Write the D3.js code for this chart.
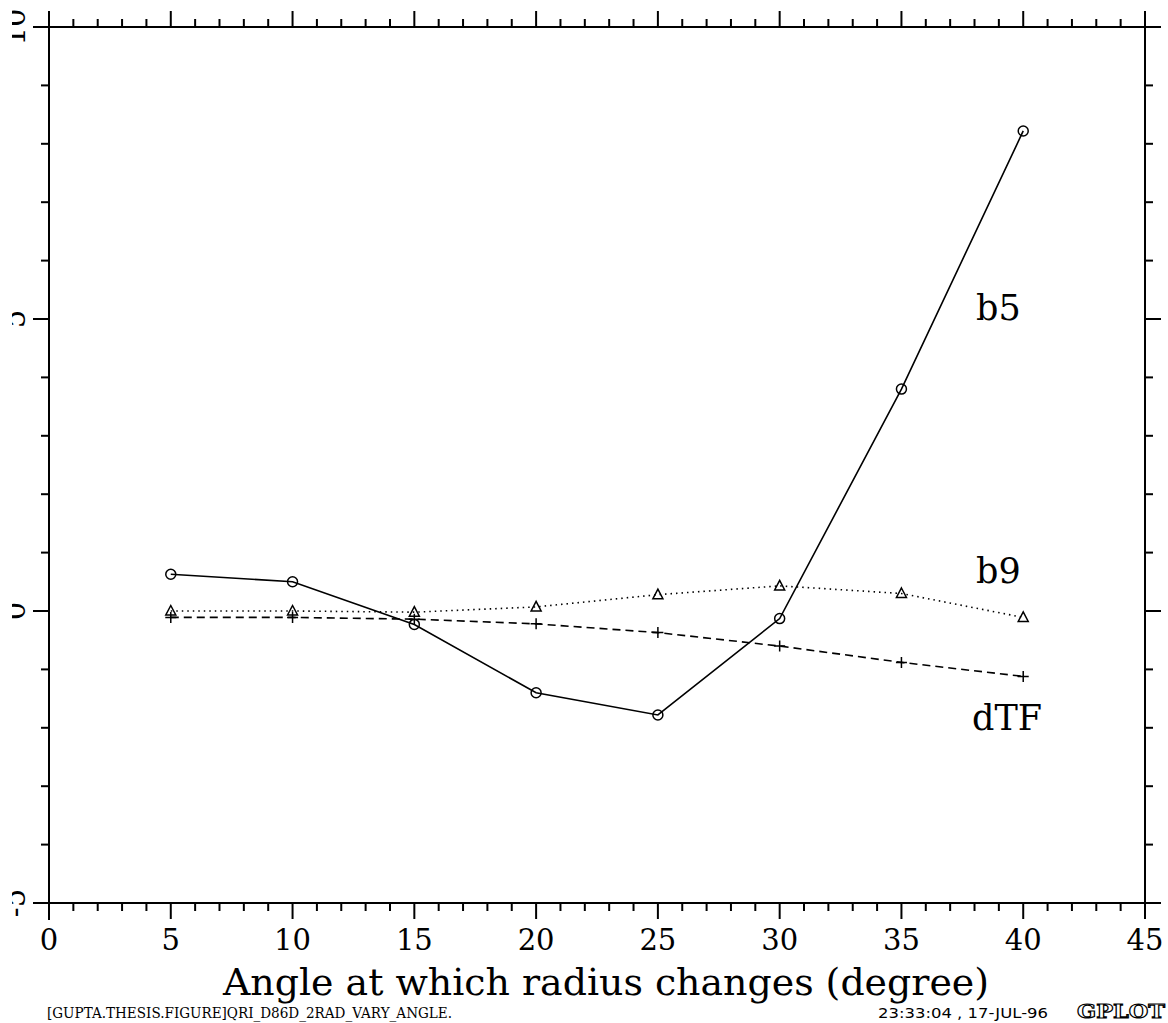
<!DOCTYPE html>
<html>
<head>
<meta charset="utf-8">
<script src="https://cdn.jsdelivr.net/npm/d3@7"></script>
<style>
  html, body { margin: 0; padding: 0; background: #fff; }
  svg { display: block; }
</style>
</head>
<body>
<script>
// Angle values along the x axis
const angles = [5, 10, 15, 20, 25, 30, 35, 40];

// Series values
const b5  = [0.63, 0.50, -0.23, -1.40, -1.78, -0.13, 3.80, 8.22];
const b9  = [0.00, 0.00, -0.02, 0.07, 0.28, 0.43, 0.30, -0.11];
const dTF = [-0.11, -0.11, -0.14, -0.22, -0.37, -0.60, -0.88, -1.12];

// Tick labels
const xTicks = [0, 5, 10, 15, 20, 25, 30, 35, 40, 45];
const yTicks = [-5, 0, 5, 10];

const W = 1168, H = 1023;
const plotLeft = 49, plotRight = 1145, plotTop = 27, plotBottom = 903;
const serif = "'DejaVu Serif', 'Liberation Serif', serif";

const svg = d3.select("body").append("svg")
  .attr("width", W).attr("height", H);

const x = d3.scaleLinear().domain([0, 45]).range([plotLeft, plotRight]);
const y = d3.scaleLinear().domain([-5, 10]).range([plotBottom, plotTop]);

const ink = "#000";

// Frame: axis lines overshoot the corners slightly
const frame = svg.append("g").attr("stroke", ink).attr("stroke-width", 2).attr("fill", "none");
frame.append("line").attr("x1", plotLeft - 15).attr("x2", plotRight).attr("y1", plotTop).attr("y2", plotTop);
frame.append("line").attr("x1", plotLeft - 15).attr("x2", plotRight).attr("y1", plotBottom).attr("y2", plotBottom);
frame.append("line").attr("x1", plotLeft).attr("x2", plotLeft).attr("y1", plotTop - 15).attr("y2", plotBottom + 17);
frame.append("line").attr("x1", plotRight).attr("x2", plotRight).attr("y1", plotTop - 15).attr("y2", plotBottom);

// Minor (every unit) and major (every 5 units) ticks on all four sides
const xMinor = d3.range(0, 46, 1);
const yMinor = d3.range(-5, 11, 1);
const isMajor = v => v % 5 === 0;

const ticks = svg.append("g").attr("stroke", ink).attr("stroke-width", 2);
xMinor.forEach(v => {
  const len = isMajor(v) ? 16 : 8;
  ticks.append("line").attr("x1", x(v)).attr("x2", x(v)).attr("y1", plotBottom).attr("y2", plotBottom + len);
  ticks.append("line").attr("x1", x(v)).attr("x2", x(v)).attr("y1", plotTop).attr("y2", plotTop - len);
});
yMinor.forEach(v => {
  const len = isMajor(v) ? 16 : 8;
  ticks.append("line").attr("y1", y(v)).attr("y2", y(v)).attr("x1", plotLeft).attr("x2", plotLeft - len);
  ticks.append("line").attr("y1", y(v)).attr("y2", y(v)).attr("x1", plotRight).attr("x2", plotRight + len);
});

// X tick labels
svg.append("g").selectAll("text").data(xTicks).join("text")
  .attr("x", d => x(d)).attr("y", plotBottom + 47)
  .attr("text-anchor", "middle")
  .attr("font-family", serif).attr("font-size", 29)
  .attr("fill", ink)
  .text(d => d);

// Y tick labels (rotated, running off the left edge)
svg.append("defs").append("clipPath").attr("id", "yclip")
  .append("rect").attr("x", 12).attr("y", 0).attr("width", 40).attr("height", H);
svg.append("g").attr("clip-path", "url(#yclip)")
  .selectAll("text").data(yTicks).join("text")
  .attr("transform", d => `translate(25,${y(d)}) rotate(-90)`)
  .attr("text-anchor", "middle")
  .attr("font-family", serif).attr("font-size", 29)
  .attr("fill", ink)
  .text(d => d);

// X axis title
svg.append("text")
  .attr("x", 606).attr("y", 995)
  .attr("text-anchor", "middle")
  .attr("font-family", serif).attr("font-size", 37)
  .attr("textLength", 766).attr("lengthAdjust", "spacingAndGlyphs")
  .attr("fill", ink)
  .text("Angle at which radius changes (degree)");

// Series
const series = [
  { name: "b5",  values: b5,  dash: null,  marker: "circle" },
  { name: "b9",  values: b9,  dash: "1.5,4", marker: "triangle" },
  { name: "dTF", values: dTF, dash: "8,5", marker: "plus" }
];

const line = d3.line().x(d => x(d[0])).y(d => y(d[1]));

series.forEach(s => {
  const pts = angles.map((a, i) => [a, s.values[i]]);
  svg.append("path")
    .datum(pts)
    .attr("d", line)
    .attr("fill", "none")
    .attr("stroke", ink)
    .attr("stroke-width", 1.6)
    .attr("stroke-dasharray", s.dash);

  const g = svg.append("g").attr("stroke", ink).attr("stroke-width", 1.5).attr("fill", "none");
  pts.forEach(p => {
    const cx = x(p[0]), cy = y(p[1]);
    if (s.marker === "circle") {
      g.append("circle").attr("cx", cx).attr("cy", cy).attr("r", 5);
    } else if (s.marker === "triangle") {
      g.append("path").attr("d", `M${cx},${cy - 5.5}L${cx + 5},${cy + 4}L${cx - 5},${cy + 4}Z`);
    } else {
      g.append("path").attr("d", `M${cx - 5.5},${cy}H${cx + 5.5}M${cx},${cy - 5.5}V${cy + 5.5}`);
    }
  });
});

// Series names placed beside their curves
const names = [
  { text: "b5",  px: 976, py: 320 },
  { text: "b9",  px: 976, py: 583 },
  { text: "dTF", px: 972, py: 730 }
];
svg.append("g").selectAll("text").data(names).join("text")
  .attr("x", d => d.px).attr("y", d => d.py)
  .attr("font-family", serif).attr("font-size", 35)
  .attr("fill", ink)
  .text(d => d.text);

// Footer: file path, timestamp and program tag
svg.append("text")
  .attr("x", 47).attr("y", 1018)
  .attr("font-family", serif).attr("font-size", 15)
  .attr("textLength", 405).attr("lengthAdjust", "spacingAndGlyphs")
  .attr("fill", ink)
  .text("[GUPTA.THESIS.FIGURE]QRI_D86D_2RAD_VARY_ANGLE.");

svg.append("text")
  .attr("x", 878).attr("y", 1018)
  .attr("font-family", "'DejaVu Sans', sans-serif").attr("font-size", 14)
  .attr("textLength", 170).attr("lengthAdjust", "spacingAndGlyphs")
  .attr("fill", ink)
  .text("23:33:04 , 17-JUL-96");

svg.append("text")
  .attr("x", 1077).attr("y", 1018)
  .attr("font-family", serif).attr("font-size", 19).attr("font-weight", "bold")
  .attr("textLength", 88).attr("lengthAdjust", "spacingAndGlyphs")
  .attr("fill", "#fff").attr("stroke", ink).attr("stroke-width", 1.1)
  .text("GPLOT");
</script>
</body>
</html>
